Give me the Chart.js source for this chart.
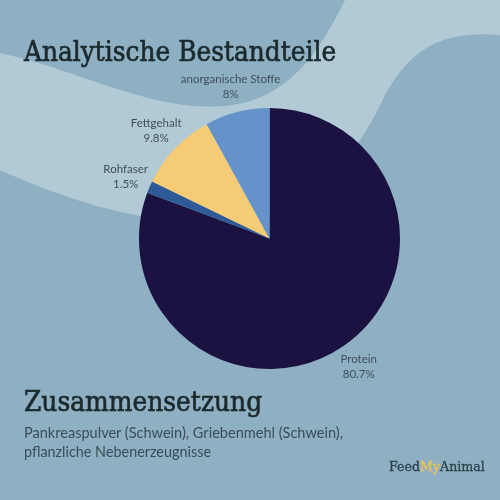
<!DOCTYPE html>
<html>
<head>
<meta charset="utf-8">
<script src="https://cdn.jsdelivr.net/npm/chart.js@4/dist/chart.umd.min.js"></script>
<style>
  html, body { margin: 0; padding: 0; }
  body { width: 500px; height: 500px; overflow: hidden; background: #8fb0c3; }
  .wrap { position: relative; width: 500px; height: 500px; }
  canvas { position: absolute; left: 0; top: 0; }
  .txt { position: absolute; white-space: nowrap; line-height: 1; transform-origin: 0 0; }
  .head { font-family: "DejaVu Serif", serif; font-size: 28px; color: #1b2a2d; -webkit-text-stroke: 0.7px #1b2a2d; }
  .body { font-family: Lato, "Noto Sans", sans-serif; font-size: 15px; color: #3a4c56; }
  .logo { font-family: "DejaVu Serif", serif; font-size: 13px; color: #2b3f4a; -webkit-text-stroke: 0.3px #2b3f4a; }
  .logo span { color: #f1c24f; -webkit-text-stroke: 0.3px #f1c24f; }
</style>
</head>
<body>
<div class="wrap">
  <canvas id="myChart" width="500" height="500"></canvas>
  <div class="txt head" data-w="312" style="left:24px; top:38px;">Analytische Bestandteile</div>
  <div class="txt head" data-w="238" style="left:24px; top:388px;">Zusammensetzung</div>
  <div class="txt body" data-w="319" style="left:24px; top:425px;">Pankreaspulver (Schwein), Griebenmehl (Schwein),</div>
  <div class="txt body" data-w="187" style="left:24px; top:444px;">pflanzliche Nebenerzeugnisse</div>
  <div class="txt logo" data-w="96" style="left:389px; top:460px;">Feed<span>My</span>Animal</div>
</div>
<script>
const labels = ['Protein', 'Rohfaser', 'Fettgehalt', 'anorganische Stoffe']
const values = [80.7, 1.5, 9.8, 8]
const percentText = ['80.7%', '1.5%', '9.8%', '8%']
const colors = ['#1b1242', '#2e5b98', '#f6cb75', '#6592c9']

// squeeze the html text to the widths
document.querySelectorAll('.txt').forEach(el => {
    const w = parseFloat(el.dataset.w)
    const scale = w / el.scrollWidth
    el.style.transform = `scaleX(${scale})`
})

const waveBg = {
    id: 'waveBg',
    beforeDraw(chart) {
        const ctx = chart.ctx
        ctx.save()
        ctx.fillStyle = '#8fb0c3'
        ctx.fillRect(0, 0, chart.width, chart.height)
        ctx.fillStyle = '#b1cad6'
        ctx.beginPath()
        ctx.moveTo(0, 53)
        ctx.bezierCurveTo(80, 70, 150, 112, 225, 106)
        ctx.bezierCurveTo(290, 100, 320, 50, 345, 0)
        ctx.lineTo(500, 0)
        ctx.lineTo(500, 35)
        ctx.bezierCurveTo(440, 30, 410, 50, 385, 95)
        ctx.bezierCurveTo(350, 170, 300, 225, 200, 222)
        ctx.bezierCurveTo(120, 220, 50, 192, 0, 170)
        ctx.closePath()
        ctx.fill()
        ctx.restore()
    }
}

const sliceLabels = {
    id: 'sliceLabels',
    afterDatasetsDraw(chart) {
        const ctx = chart.ctx
        const meta = chart.getDatasetMeta(0)
        ctx.save()
        ctx.font = '11.5px Lato, "Noto Sans", sans-serif'
        ctx.fillStyle = '#3e4f5a'
        ctx.textAlign = 'center'
        ctx.textBaseline = 'middle'
        meta.data.forEach((arc, i) => {
            const p = arc.getProps(['x', 'y', 'startAngle', 'endAngle', 'outerRadius'], true)
            const mid = (p.startAngle + p.endAngle) / 2
            const r = p.outerRadius + 26
            const x = p.x + Math.cos(mid) * r
            const y = p.y + Math.sin(mid) * r
            ctx.fillText(labels[i], x, y - 7.5)
            ctx.fillText(percentText[i], x, y + 7.5)
        })
        ctx.restore()
    }
}

const myChart = new Chart(document.getElementById('myChart'), {
    type: 'pie',
    data: {
        labels: labels,
        datasets: [{
            data: values,
            backgroundColor: colors,
            borderWidth: 0
        }]
    },
    options: {
        responsive: false,
        animation: false,
        layout: { padding: { top: 108, bottom: 131, left: 139, right: 100 } },
        plugins: {
            legend: { display: false },
            tooltip: { enabled: false }
        }
    },
    plugins: [waveBg, sliceLabels]
})
</script>
</body>
</html>
